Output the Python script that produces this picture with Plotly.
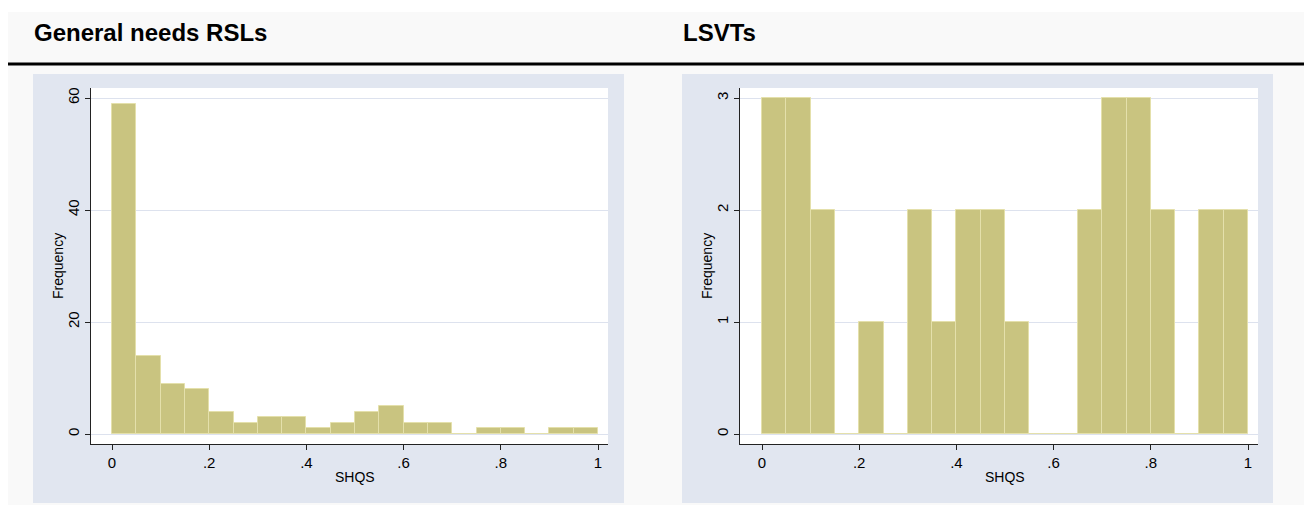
import plotly.graph_objects as go

# ---------------- data ----------------
bin_width = 0.05
bin_left = [0.00, 0.05, 0.10, 0.15, 0.20, 0.25, 0.30, 0.35, 0.40, 0.45,
            0.50, 0.55, 0.60, 0.65, 0.70, 0.75, 0.80, 0.85, 0.90, 0.95]
rsl_counts = [59, 14, 9, 8, 4, 2, 3, 3, 1, 2, 4, 5, 2, 2, 0, 1, 1, 0, 1, 1]
lsvt_counts = [3, 3, 2, 0, 1, 0, 2, 1, 2, 2, 1, 0, 0, 2, 3, 3, 2, 0, 2, 2]
x_tickvals = [0, 0.2, 0.4, 0.6, 0.8, 1]
x_ticktext = ["0", ".2", ".4", ".6", ".8", "1"]
rsl_yticks = [0, 20, 40, 60]
lsvt_yticks = [0, 1, 2, 3]
panel_titles = ["General needs RSLs", "LSVTs"]
x_title = "SHQS"
y_title = "Frequency"

# ---------------- style ----------------
OFF = 8                      # browser body margin
W, H = 1312 - OFF, 506 - OFF  # figure size so the page fills the window
FONT = "Arial, Liberation Sans, sans-serif"
BAR = "#c9c480"
BAR_LINE = "#e4e0ab"
GRID = "#dde2ee"
PANEL = "#e1e6f0"
PAGE = "#f9f9f9"
AX = "#222222"


def fx(p):
    return (p - OFF) / W


def fy(p):
    return 1 - (p - OFF) / H


centers = [b + bin_width / 2 for b in bin_left]

fig = go.Figure()
fig.add_trace(go.Bar(x=centers, y=rsl_counts, width=bin_width,
                     marker=dict(color=BAR, line=dict(color=BAR_LINE, width=1)),
                     xaxis="x", yaxis="y", showlegend=False, hoverinfo="x+y"))
fig.add_trace(go.Bar(x=centers, y=lsvt_counts, width=bin_width,
                     marker=dict(color=BAR, line=dict(color=BAR_LINE, width=1)),
                     xaxis="x2", yaxis="y2", showlegend=False, hoverinfo="x+y"))

# panel geometry (screen pixels)
panels = [
    dict(blue=(33, 624), plot=(91, 608), zero=112, title_x=33),
    dict(blue=(682, 1273), plot=(740, 1258), zero=762, title_x=682),
]
plot_top, plot_bot = 88, 444
y_zero_px = 434
unit_x = 486.0

shapes = [
    dict(type="rect", xref="paper", yref="paper", x0=fx(8), x1=1, y0=fy(505), y1=fy(12),
         fillcolor=PAGE, line=dict(width=0), layer="below"),
    dict(type="line", xref="paper", yref="paper", x0=fx(8), x1=fx(1310), y0=fy(64), y1=fy(64),
         line=dict(color="black", width=3), layer="below"),
]
for p in panels:
    shapes.append(dict(type="rect", xref="paper", yref="paper",
                       x0=fx(p["blue"][0]), x1=fx(p["blue"][1]), y0=fy(503), y1=fy(74),
                       fillcolor=PANEL, line=dict(width=0), layer="below"))
    shapes.append(dict(type="rect", xref="paper", yref="paper",
                       x0=fx(p["plot"][0]), x1=fx(p["plot"][1]), y0=fy(plot_bot), y1=fy(plot_top),
                       fillcolor="white", line=dict(width=0), layer="below"))

annotations = []
for p, t in zip(panels, panel_titles):
    annotations.append(dict(text="<b>%s</b>" % t, x=fx(p["title_x"] - 1), y=fy(33), xref="paper", yref="paper",
                            xanchor="left", yanchor="middle", showarrow=False,
                            font=dict(family=FONT, size=24, color="black")))
    annotations.append(dict(text=x_title, x=fx(p["zero"] + unit_x / 2), y=fy(477), xref="paper", yref="paper",
                            xanchor="center", yanchor="middle", showarrow=False,
                            font=dict(family=FONT, size=14, color="black")))
    annotations.append(dict(text=y_title, x=fx(p["plot"][0] - 33), y=fy((plot_top + plot_bot) / 2),
                            xref="paper", yref="paper", textangle=-90,
                            xanchor="center", yanchor="middle", showarrow=False,
                            font=dict(family=FONT, size=14, color="black")))


def xaxis_cfg(p):
    x0, x1 = p["plot"]
    z = p["zero"]
    return dict(domain=[fx(x0), fx(x1)], range=[(x0 - z) / unit_x, (x1 - z) / unit_x],
                tickvals=x_tickvals, ticktext=x_ticktext, ticks="outside", ticklen=5,
                tickcolor=AX, showline=True, linecolor=AX, linewidth=1, showgrid=False,
                zeroline=False, tickfont=dict(family=FONT, size=15, color="black"), fixedrange=True)


def yaxis_cfg(ticks, anchor):
    top = ticks[-1]
    step_px = (y_zero_px - 98) / top
    return dict(domain=[fy(plot_bot), fy(plot_top)],
                range=[(y_zero_px - plot_bot) / step_px, (y_zero_px - plot_top) / step_px],
                tickvals=ticks, ticktext=[str(v) for v in ticks], ticks="outside", ticklen=5,
                tickcolor=AX, showline=True, linecolor=AX, linewidth=1, showgrid=True,
                gridcolor=GRID, gridwidth=1, zeroline=False, tickangle=-90, anchor=anchor,
                tickfont=dict(family=FONT, size=15, color="black"), fixedrange=True)


fig.update_layout(
    width=W, height=H, margin=dict(l=0, r=0, t=0, b=0),
    paper_bgcolor="white", plot_bgcolor="rgba(0,0,0,0)",
    bargap=0, showlegend=False,
    xaxis=dict(anchor="y", **xaxis_cfg(panels[0])),
    yaxis=yaxis_cfg(rsl_yticks, "x"),
    xaxis2=dict(anchor="y2", **xaxis_cfg(panels[1])),
    yaxis2=yaxis_cfg(lsvt_yticks, "x2"),
    shapes=shapes, annotations=annotations,
)

fig.write_html("out.html")
